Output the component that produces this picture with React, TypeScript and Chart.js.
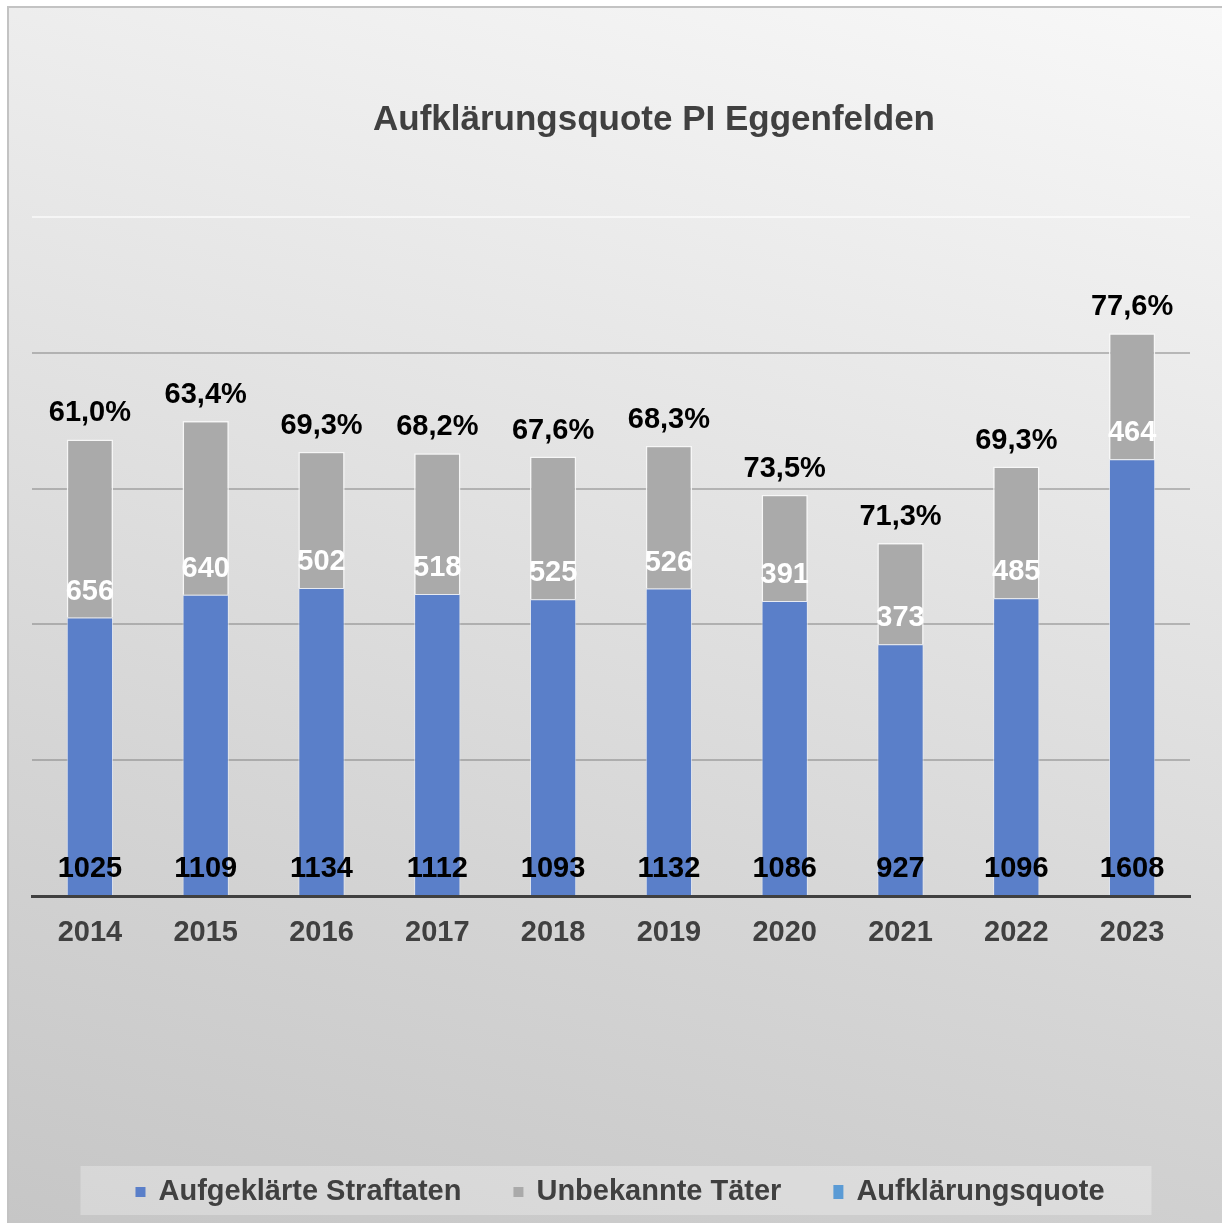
import React, { useEffect, useRef } from "react";
import { Chart, registerables } from "chart.js";

Chart.register(...registerables);

const years = ["2014", "2015", "2016", "2017", "2018", "2019", "2020", "2021", "2022", "2023"];
const aufgeklaert = [1025, 1109, 1134, 1112, 1093, 1132, 1086, 927, 1096, 1608];
const unbekannt = [656, 640, 502, 518, 525, 526, 391, 373, 485, 464];
const quote = [61.0, 63.4, 69.3, 68.2, 67.6, 68.3, 73.5, 71.3, 69.3, 77.6];
const seriesNames = ["Aufgeklärte Straftaten", "Unbekannte Täter", "Aufklärungsquote"];
const titleText = "Aufklärungsquote PI Eggenfelden";
const yMax = 2500;
const yStep = 500;

const FONT = '"Liberation Sans", Arial, Helvetica, sans-serif';
const BLUE = "#5a7fc9";
const GRAY = "#aaaaaa";
const LIGHTBLUE = "#5b9bd5";
const TEXT = "#404040";

const fmtPct = (v: number) => v.toFixed(1).replace(".", ",") + "%";

const labelsPlugin = {
  id: "valueLabels",
  afterDatasetsDraw(chart: any) {
    const ctx = chart.ctx;
    const m0 = chart.getDatasetMeta(0);
    const m1 = chart.getDatasetMeta(1);
    ctx.save();
    ctx.font = `bold 29px ${FONT}`;
    ctx.textAlign = "center";
    ctx.textBaseline = "middle";
    m0.data.forEach((bar: any, i: number) => {
      ctx.fillStyle = "#000000";
      ctx.fillText(String(aufgeklaert[i]), bar.x, bar.base - 26);
    });
    m1.data.forEach((bar: any, i: number) => {
      ctx.fillStyle = "#ffffff";
      ctx.fillText(String(unbekannt[i]), bar.x, bar.base - 26);
      ctx.fillStyle = "#000000";
      ctx.fillText(fmtPct(quote[i]), bar.x, bar.y - 26);
    });
    ctx.restore();
  },
};

const titleLegendPlugin = {
  id: "titleLegend",
  afterDraw(chart: any) {
    const ctx = chart.ctx;
    ctx.save();
    // title
    ctx.font = `bold 35px ${FONT}`;
    ctx.fillStyle = TEXT;
    ctx.textAlign = "center";
    ctx.textBaseline = "middle";
    ctx.fillText(titleText, 654, 120);

    // legend
    ctx.font = `bold 29px ${FONT}`;
    const boxes = [
      { c: BLUE, w: 10, h: 10 },
      { c: GRAY, w: 10, h: 10 },
      { c: LIGHTBLUE, w: 10, h: 14 },
    ];
    const gapBoxText = 13;
    const gapItems = 52;
    const widths = seriesNames.map((n, i) => boxes[i].w + gapBoxText + ctx.measureText(n).width);
    const total = widths.reduce((a, b) => a + b, 0) + gapItems * (seriesNames.length - 1);
    let x = 620 - total / 2;
    const cy = 1191;
    ctx.fillStyle = "rgba(255,255,255,0.28)";
    ctx.fillRect(x - 55, 1166, total + 55 + 47, 49);
    ctx.textAlign = "left";
    seriesNames.forEach((n, i) => {
      const b = boxes[i];
      ctx.fillStyle = b.c;
      ctx.fillRect(x, cy - b.h / 2 + 1, b.w, b.h);
      ctx.fillStyle = TEXT;
      ctx.fillText(n, x + b.w + gapBoxText, cy + 1);
      x += widths[i] + gapItems;
    });
    ctx.restore();
  },
};

export default function App() {
  const ref = useRef<HTMLCanvasElement | null>(null);

  useEffect(() => {
    if (!ref.current) return;
    const chart = new Chart(ref.current, {
      type: "bar",
      data: {
        labels: years,
        datasets: [
          {
            label: seriesNames[0],
            data: aufgeklaert,
            backgroundColor: BLUE,
            borderColor: "rgba(235,240,250,0.7)",
            borderWidth: 1,
            stack: "s",
            yAxisID: "y",
          } as any,
          {
            label: seriesNames[1],
            data: unbekannt,
            backgroundColor: GRAY,
            borderColor: "rgba(248,248,248,0.9)",
            borderWidth: 1.5,
            stack: "s",
            yAxisID: "y",
          } as any,
          {
            type: "line",
            label: seriesNames[2],
            data: quote,
            yAxisID: "y2",
            showLine: false,
            pointRadius: 0,
            pointHoverRadius: 0,
            borderColor: LIGHTBLUE,
            backgroundColor: LIGHTBLUE,
          } as any,
        ],
      },
      options: {
        responsive: false,
        animation: false,
        devicePixelRatio: 1,
        layout: { padding: { top: 217, left: 32, right: 32, bottom: 267 } },
        datasets: { bar: { categoryPercentage: 1, barPercentage: 0.4 } } as any,
        plugins: {
          legend: { display: false },
          title: { display: false },
          tooltip: { enabled: false },
        },
        scales: {
          x: {
            stacked: true,
            z: 1,
            grid: { display: false },
            border: { display: true, color: TEXT, width: 3 },
            ticks: { color: TEXT, font: { family: FONT, size: 29, weight: "bold" }, padding: 12 },
            afterFit: (s: any) => {
              s.height = 60;
            },
          } as any,
          y: {
            stacked: true,
            min: 0,
            max: yMax,
            ticks: { display: false, stepSize: yStep },
            grid: {
              drawTicks: false,
              lineWidth: 2,
              color: (c: any) => (c.tick && c.tick.value === yMax ? "rgba(255,255,255,0.6)" : "rgba(120,120,120,0.45)"),
            },
            border: { display: false },
            afterFit: (s: any) => {
              s.width = 0;
            },
          } as any,
          y2: { display: false, min: 0, max: 100 },
        },
      },
      plugins: [labelsPlugin, titleLegendPlugin],
    });
    return () => chart.destroy();
  }, []);

  return (
    <div style={{ position: "fixed", left: 0, top: 0, width: 1222, height: 1223, overflow: "hidden" }}>
      <div
        style={{
          position: "absolute",
          left: 7,
          top: 6,
          right: 0,
          bottom: 0,
          borderTop: "2px solid #c3c3c3",
          borderLeft: "2px solid #c3c3c3",
          background: "linear-gradient(195deg, #f8f8f8 0%, #e6e6e6 35%, #d5d5d5 68%, #c6c6c6 100%)",
        }}
      />
      <canvas ref={ref} width={1222} height={1223} style={{ position: "absolute", left: 0, top: 0, width: 1222, height: 1223 }} />
    </div>
  );
}
